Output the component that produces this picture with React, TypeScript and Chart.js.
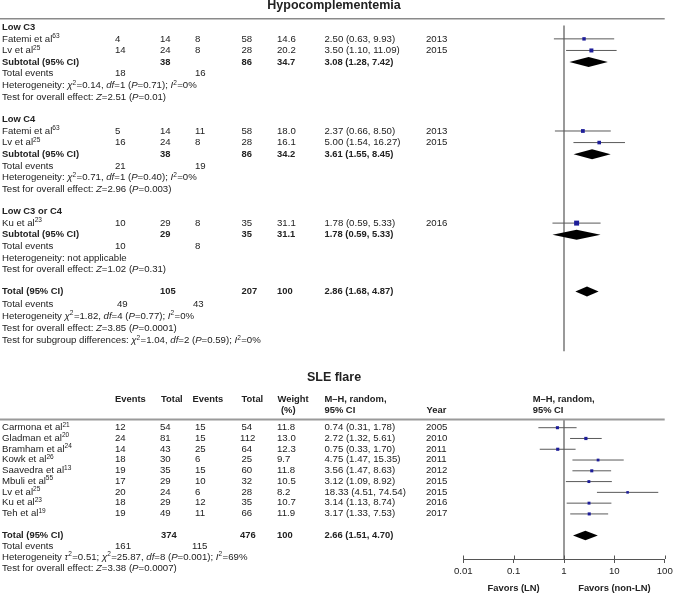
import React, { useEffect, useRef } from "react";
import { Chart, registerables } from "chart.js";

Chart.register(...registerables);

const FONT = '"Liberation Sans", Arial, Helvetica, sans-serif';
const FS = 9.65;
const FS_BOLD = 9.4;
const TEXT = "#222";

// ---------- Hypocomplementemia ----------
const hypoTitle = "Hypocomplementemia";
const hypoGroupNames = ["Low C3", "Low C4", "Low C3 or C4"];
const hypoStudyGroup = [0, 0, 1, 1, 2];
const hypoStudyNames = ["Fatemi et al", "Lv et al", "Fatemi et al", "Lv et al", "Ku et al"];
const hypoStudyRefs = ["63", "25", "63", "25", "23"];
const hypoEventsLN = [4, 14, 5, 16, 10];
const hypoTotalLN = [14, 24, 14, 24, 29];
const hypoEventsNonLN = [8, 8, 11, 8, 8];
const hypoTotalNonLN = [58, 28, 58, 28, 35];
const hypoWeights = [14.6, 20.2, 18.0, 16.1, 31.1];
const hypoOR = [2.5, 3.5, 2.37, 5.0, 1.78];
const hypoLower = [0.63, 1.1, 0.66, 1.54, 0.59];
const hypoUpper = [9.93, 11.09, 8.5, 16.27, 5.33];
const hypoYears = [2013, 2015, 2013, 2015, 2016];

const hypoSubTotalLN = [38, 38, 29];
const hypoSubTotalNonLN = [86, 86, 35];
const hypoSubEventsLN = [18, 21, 10];
const hypoSubEventsNonLN = [16, 19, 8];
const hypoSubWeights = [34.7, 34.2, 31.1];
const hypoSubOR = [3.08, 3.61, 1.78];
const hypoSubLower = [1.28, 1.55, 0.59];
const hypoSubUpper = [7.42, 8.45, 5.33];
const hypoSubHet = [
  "Heterogeneity: _χ_^2^=0.14, _df_=1 (_P_=0.71); _I_^2^=0%",
  "Heterogeneity: _χ_^2^=0.71, _df_=1 (_P_=0.40); _I_^2^=0%",
  "Heterogeneity: not applicable",
];
const hypoSubTest = [
  "Test for overall effect: _Z_=2.51 (_P_=0.01)",
  "Test for overall effect: _Z_=2.96 (_P_=0.003)",
  "Test for overall effect: _Z_=1.02 (_P_=0.31)",
];
const hypoAllTotals = [105, 207];
const hypoAllEvents = [49, 43];
const hypoAllWeight = 100;
const hypoAllEffect = [2.86, 1.68, 4.87];
const hypoAllNotes = [
  "Heterogeneity _χ_^2^=1.82, _df_=4 (_P_=0.77); _I_^2^=0%",
  "Test for overall effect: _Z_=3.85 (_P_=0.0001)",
  "Test for subgroup differences: _χ_^2^=1.04, _df_=2 (_P_=0.59); _I_^2^=0%",
];

// ---------- SLE flare ----------
const sleTitle = "SLE flare";
const sleStudyNames = ["Carmona et al", "Gladman et al", "Bramham et al", "Kowk et al", "Saavedra et al", "Mbuli et al", "Lv et al", "Ku et al", "Teh et al"];
const sleStudyRefs = ["21", "20", "24", "26", "13", "55", "25", "23", "19"];
const sleEventsLN = [12, 24, 14, 18, 19, 17, 20, 18, 19];
const sleTotalLN = [54, 81, 43, 30, 35, 29, 24, 29, 49];
const sleEventsNonLN = [15, 15, 25, 6, 15, 10, 6, 12, 11];
const sleTotalNonLN = [54, 112, 64, 25, 60, 32, 28, 35, 66];
const sleWeights = [11.8, 13.0, 12.3, 9.7, 11.8, 10.5, 8.2, 10.7, 11.9];
const sleOR = [0.74, 2.72, 0.75, 4.75, 3.56, 3.12, 18.33, 3.14, 3.17];
const sleLower = [0.31, 1.32, 0.33, 1.47, 1.47, 1.09, 4.51, 1.13, 1.33];
const sleUpper = [1.78, 5.61, 1.7, 15.35, 8.63, 8.92, 74.54, 8.74, 7.53];
const sleYears = [2005, 2010, 2011, 2011, 2012, 2015, 2015, 2016, 2017];
const sleAllTotals = [374, 476];
const sleAllEvents = [161, 115];
const sleAllWeight = 100;
const sleAllEffect = [2.66, 1.51, 4.7];
const sleAllNotes = [
  "Heterogeneity _τ_^2^=0.51; _χ_^2^=25.87, _df_=8 (_P_=0.001); _I_^2^=69%",
  "Test for overall effect: _Z_=3.38 (_P_=0.0007)",
];
const sleHeaderLine1 = ["Events", "Total", "Events", "Total", "Weight", "M–H, random,", "M–H, random,"];
const sleHeaderLine2 = ["(%)", "95% CI", "Year", "95% CI"];

// ---------- axis ----------
const axisTicks = [0.01, 0.1, 1, 10, 100];
const axisTickLabels = ["0.01", "0.1", "1", "10", "100"];
const favorLabels = ["Favors (LN)", "Favors (non-LN)"];
const favorAt = [0.1, 10];

// ---------- layout (pixels / rows, not data) ----------
const W = 673;
const TOP_H = 360;
const BOT_H = 233;
const PAD_L = 463.3;
const PAD_R = 8.3;
const COL = { label: 2, e1: 115, t1: 160, e2: 195, t2: 241.5, w: 277, ci: 324.5, year: 426 };
const TOP_ROW_PX = 11.85;
const TOP_Y_MIN = -25 / TOP_ROW_PX;
const TOP_GROUP_START = [-0.1, 7.85, 15.8];
const TOP_TOTAL_START = 22.7;
const TOP_TOTAL_STEP = 1.06;
const BOT_ROW_PX = 11;
const BOT_Y_MIN = -65 / BOT_ROW_PX;
const BOT_AREA_H = 199;
const BASE_OFF = 2.8;

const fmt2 = (v: number) => v.toFixed(2);
const fmtCI = (e: number, l: number, u: number) => `${fmt2(e)} (${fmt2(l)}, ${fmt2(u)})`;
const fmtW = (w: number) => (w === 100 ? "100" : w.toFixed(1));

function drawRich(ctx: CanvasRenderingContext2D, text: string, x: number, y: number, bold = false, align = "left", sizeIn?: number) {
  const size = sizeIn ?? (bold ? FS_BOLD : FS);
  const parts: { t: string; k: string }[] = [];
  const re = /(_[^_]+_|\^[^^]+\^)/g;
  let last = 0;
  let m: RegExpExecArray | null;
  while ((m = re.exec(text))) {
    if (m.index > last) parts.push({ t: text.slice(last, m.index), k: "n" });
    const s = m[0];
    parts.push({ t: s.slice(1, -1), k: s[0] === "_" ? "i" : "s" });
    last = m.index + s.length;
  }
  if (last < text.length) parts.push({ t: text.slice(last), k: "n" });
  const b = bold ? "bold " : "";
  const fontFor = (k: string) =>
    k === "i" ? `italic ${b}${size}px ${FONT}` : k === "s" ? `${b}${size * 0.68}px ${FONT}` : `${b}${size}px ${FONT}`;
  let total = 0;
  for (const p of parts) {
    ctx.font = fontFor(p.k);
    total += ctx.measureText(p.t).width + (p.k === "s" ? 0.4 : 0);
  }
  let cx = align === "center" ? x - total / 2 : align === "right" ? x - total : x;
  ctx.textAlign = "left";
  ctx.textBaseline = "alphabetic";
  ctx.fillStyle = TEXT;
  for (const p of parts) {
    ctx.font = fontFor(p.k);
    const dy = p.k === "s" ? -size * 0.36 : 0;
    ctx.fillText(p.t, cx, y + dy);
    cx += ctx.measureText(p.t).width + (p.k === "s" ? 0.4 : 0);
  }
}

function diamond(ctx: CanvasRenderingContext2D, chart: any, e: number, l: number, u: number, row: number, half = 5) {
  const xs = chart.scales.x;
  const ys = chart.scales.y;
  const cx = xs.getPixelForValue(e);
  const lx = xs.getPixelForValue(l);
  const ux = xs.getPixelForValue(u);
  const cy = ys.getPixelForValue(row);
  ctx.save();
  ctx.fillStyle = "#000";
  ctx.beginPath();
  ctx.moveTo(lx, cy);
  ctx.lineTo(cx, cy - half);
  ctx.lineTo(ux, cy);
  ctx.lineTo(cx, cy + half);
  ctx.closePath();
  ctx.fill();
  ctx.restore();
}

function hypoLayout() {
  const studyRow: number[] = [];
  const counters = [0, 0, 0];
  hypoStudyGroup.forEach((g) => {
    counters[g] += 1;
    studyRow.push(TOP_GROUP_START[g] + counters[g]);
  });
  const subRow = TOP_GROUP_START.map((s, g) => s + counters[g] + 1);
  return { studyRow, subRow };
}

function baseOptions(yMin: number, yMax: number, showX: boolean): any {
  const x: any = {
    type: "logarithmic",
    min: 0.01,
    max: 100,
    display: showX,
    position: "bottom",
    afterBuildTicks: (s: any) => {
      s.ticks = axisTicks.map((v) => ({ value: v }));
    },
    ticks: {
      autoSkip: false,
      maxRotation: 0,
      minRotation: 0,
      color: TEXT,
      padding: 3,
      font: { family: FONT, size: FS },
      callback: (_v: any, i: number) => axisTickLabels[i],
    },
    grid: { display: true, drawOnChartArea: false, drawTicks: true, tickLength: 4, color: "#555", lineWidth: 1 },
    border: { display: true, color: "#555", width: 1 },
  };
  if (showX) {
    x.afterFit = (s: any) => {
      s.height = BOT_H - BOT_AREA_H;
      s.paddingLeft = 0;
      s.paddingRight = 0;
    };
  }
  return {
    responsive: false,
    animation: false,
    events: [],
    layout: { padding: { left: PAD_L, right: PAD_R, top: 0, bottom: 0 } },
    plugins: { legend: { display: false }, tooltip: { enabled: false } },
    scales: {
      x,
      y: { type: "linear", min: yMin, max: yMax, reverse: true, display: false },
    },
  };
}

function ciDatasets(eff: number[], lo: number[], hi: number[], rows: number[], w: number[]) {
  const ds: any[] = eff.map((_, i) => ({
    data: [
      { x: lo[i], y: rows[i] },
      { x: hi[i], y: rows[i] },
    ],
    showLine: true,
    borderColor: "#5a5a5a",
    borderWidth: 1,
    pointRadius: 0,
    order: 2,
    clip: false,
  }));
  ds.push({
    data: eff.map((v, i) => ({ x: v, y: rows[i] })),
    pointStyle: "rect",
    pointRadius: w.map((x) => 0.63 * Math.sqrt(x)),
    backgroundColor: "#1d1d99",
    borderWidth: 0,
    order: 0,
    clip: false,
  });
  return ds;
}

function makeTop(canvas: HTMLCanvasElement) {
  const yMax = TOP_Y_MIN + TOP_H / TOP_ROW_PX;
  const { studyRow, subRow } = hypoLayout();
  const datasets = ciDatasets(hypoOR, hypoLower, hypoUpper, studyRow, hypoWeights);
  datasets.push({
    data: [
      { x: 1, y: -0.25 },
      { x: 1, y: 27.85 },
    ],
    showLine: true,
    borderColor: "#555",
    borderWidth: 1.2,
    pointRadius: 0,
    order: 3,
  });
  const textPlugin = {
    id: "hypoText",
    afterDatasetsDraw(chart: any) {
      const ctx = chart.ctx;
      hypoSubOR.forEach((e, g) => diamond(ctx, chart, e, hypoSubLower[g], hypoSubUpper[g], subRow[g]));
      diamond(ctx, chart, hypoAllEffect[0], hypoAllEffect[1], hypoAllEffect[2], TOP_TOTAL_START);
    },
    afterDraw(chart: any) {
      const ctx = chart.ctx;
      const ys = chart.scales.y;
      const xs = chart.scales.x;
      const by = (r: number) => ys.getPixelForValue(r) + BASE_OFF;
      drawRich(ctx, hypoTitle, 334, 9.3, true, "center", 12.5);
      ctx.save();
      ctx.strokeStyle = "#8a8a8a";
      ctx.lineWidth = 1.5;
      ctx.beginPath();
      ctx.moveTo(0, ys.getPixelForValue(-0.84));
      ctx.lineTo(xs.right, ys.getPixelForValue(-0.84));
      ctx.stroke();
      ctx.restore();
      hypoGroupNames.forEach((name, g) => {
        drawRich(ctx, name, COL.label, by(TOP_GROUP_START[g]), true);
        const r = subRow[g];
        drawRich(ctx, "Subtotal (95% CI)", COL.label, by(r), true);
        drawRich(ctx, String(hypoSubTotalLN[g]), COL.t1, by(r), true);
        drawRich(ctx, String(hypoSubTotalNonLN[g]), COL.t2, by(r), true);
        drawRich(ctx, fmtW(hypoSubWeights[g]), COL.w, by(r), true);
        drawRich(ctx, fmtCI(hypoSubOR[g], hypoSubLower[g], hypoSubUpper[g]), COL.ci, by(r), true);
        drawRich(ctx, "Total events", COL.label, by(r + 1));
        drawRich(ctx, String(hypoSubEventsLN[g]), COL.e1, by(r + 1));
        drawRich(ctx, String(hypoSubEventsNonLN[g]), COL.e2, by(r + 1));
        drawRich(ctx, hypoSubHet[g], COL.label, by(r + 2));
        drawRich(ctx, hypoSubTest[g], COL.label, by(r + 3));
      });
      hypoStudyNames.forEach((n, i) => {
        const y = by(studyRow[i]);
        drawRich(ctx, `${n}^${hypoStudyRefs[i]}^`, COL.label, y);
        drawRich(ctx, String(hypoEventsLN[i]), COL.e1, y);
        drawRich(ctx, String(hypoTotalLN[i]), COL.t1, y);
        drawRich(ctx, String(hypoEventsNonLN[i]), COL.e2, y);
        drawRich(ctx, String(hypoTotalNonLN[i]), COL.t2, y);
        drawRich(ctx, fmtW(hypoWeights[i]), COL.w, y);
        drawRich(ctx, fmtCI(hypoOR[i], hypoLower[i], hypoUpper[i]), COL.ci, y);
        drawRich(ctx, String(hypoYears[i]), COL.year, y);
      });
      const t = TOP_TOTAL_START;
      drawRich(ctx, "Total (95% CI)", COL.label, by(t), true);
      drawRich(ctx, String(hypoAllTotals[0]), COL.t1, by(t), true);
      drawRich(ctx, String(hypoAllTotals[1]), COL.t2, by(t), true);
      drawRich(ctx, fmtW(hypoAllWeight), COL.w, by(t), true);
      drawRich(ctx, fmtCI(hypoAllEffect[0], hypoAllEffect[1], hypoAllEffect[2]), COL.ci, by(t), true);
      drawRich(ctx, "Total events", COL.label, by(t + TOP_TOTAL_STEP));
      drawRich(ctx, String(hypoAllEvents[0]), COL.e1 + 2, by(t + TOP_TOTAL_STEP));
      drawRich(ctx, String(hypoAllEvents[1]), COL.e2 - 2, by(t + TOP_TOTAL_STEP));
      hypoAllNotes.forEach((s, k) => drawRich(ctx, s, COL.label, by(t + TOP_TOTAL_STEP * (k + 2))));
    },
  };
  return new Chart(canvas, {
    type: "scatter",
    data: { datasets },
    options: baseOptions(TOP_Y_MIN, yMax, false),
    plugins: [textPlugin],
  } as any);
}

function makeBottom(canvas: HTMLCanvasElement) {
  const yMax = BOT_Y_MIN + BOT_AREA_H / BOT_ROW_PX;
  const rows = sleStudyNames.map((_, i) => i);
  const totalRow = rows.length + 1;
  const ruleRow = -0.77;
  const datasets = ciDatasets(sleOR, sleLower, sleUpper, rows, sleWeights);
  datasets.push({
    data: [
      { x: 1, y: ruleRow },
      { x: 1, y: yMax },
    ],
    showLine: true,
    borderColor: "#555",
    borderWidth: 1.2,
    pointRadius: 0,
    order: 3,
  });
  const textPlugin = {
    id: "sleText",
    afterDatasetsDraw(chart: any) {
      diamond(chart.ctx, chart, sleAllEffect[0], sleAllEffect[1], sleAllEffect[2], totalRow, 4.7);
    },
    afterDraw(chart: any) {
      const ctx = chart.ctx;
      const ys = chart.scales.y;
      const xs = chart.scales.x;
      const by = (r: number) => ys.getPixelForValue(r) + BASE_OFF;
      drawRich(ctx, sleTitle, 334, ys.getPixelForValue(-4.3), true, "center", 12.5);
      const h1x = [COL.e1, 161, 192.5, COL.t2, 277.5, COL.ci, 532.7];
      sleHeaderLine1.forEach((s, k) => drawRich(ctx, s, h1x[k], by(-2.65), true));
      const h2x = [281, COL.ci, 426.5, 532.7];
      sleHeaderLine2.forEach((s, k) => drawRich(ctx, s, h2x[k], by(-1.6), true));
      ctx.save();
      ctx.strokeStyle = "#9a9a9a";
      ctx.lineWidth = 2;
      ctx.beginPath();
      ctx.moveTo(0, ys.getPixelForValue(ruleRow));
      ctx.lineTo(xs.right, ys.getPixelForValue(ruleRow));
      ctx.stroke();
      ctx.strokeStyle = "#555";
      ctx.lineWidth = 1;
      axisTicks.forEach((v) => {
        const px = Math.round(xs.getPixelForValue(v)) + 0.5;
        ctx.beginPath();
        ctx.moveTo(px, xs.top);
        ctx.lineTo(px, xs.top - 3.5);
        ctx.stroke();
      });
      ctx.restore();
      sleStudyNames.forEach((n, i) => {
        const y = by(rows[i]) - 0.5;
        drawRich(ctx, `${n}^${sleStudyRefs[i]}^`, COL.label, y);
        drawRich(ctx, String(sleEventsLN[i]), COL.e1, y);
        drawRich(ctx, String(sleTotalLN[i]), COL.t1, y);
        drawRich(ctx, String(sleEventsNonLN[i]), COL.e2, y);
        drawRich(ctx, String(sleTotalNonLN[i]), sleTotalNonLN[i] >= 100 ? COL.t2 - 1.5 : COL.t2, y);
        drawRich(ctx, fmtW(sleWeights[i]), COL.w, y);
        drawRich(ctx, fmtCI(sleOR[i], sleLower[i], sleUpper[i]), COL.ci, y);
        drawRich(ctx, String(sleYears[i]), COL.year, y);
      });
      const t = totalRow;
      drawRich(ctx, "Total (95% CI)", COL.label, by(t), true);
      drawRich(ctx, String(sleAllTotals[0]), COL.t1 + 1, by(t), true);
      drawRich(ctx, String(sleAllTotals[1]), COL.t2 - 1.5, by(t), true);
      drawRich(ctx, fmtW(sleAllWeight), COL.w, by(t), true);
      drawRich(ctx, fmtCI(sleAllEffect[0], sleAllEffect[1], sleAllEffect[2]), COL.ci, by(t), true);
      drawRich(ctx, "Total events", COL.label, by(t + 1));
      drawRich(ctx, String(sleAllEvents[0]), COL.e1, by(t + 1));
      drawRich(ctx, String(sleAllEvents[1]), COL.e2 - 3, by(t + 1));
      sleAllNotes.forEach((s, k) => drawRich(ctx, s, COL.label, by(t + 2 + k)));
      favorLabels.forEach((s, k) => drawRich(ctx, s, xs.getPixelForValue(favorAt[k]), 231, true, "center"));
    },
  };
  return new Chart(canvas, {
    type: "scatter",
    data: { datasets },
    options: baseOptions(BOT_Y_MIN, yMax, true),
    plugins: [textPlugin],
  } as any);
}

export default function App() {
  const topRef = useRef<HTMLCanvasElement | null>(null);
  const botRef = useRef<HTMLCanvasElement | null>(null);
  useEffect(() => {
    const a = makeTop(topRef.current!);
    const b = makeBottom(botRef.current!);
    return () => {
      a.destroy();
      b.destroy();
    };
  }, []);
  return (
    <div style={{ position: "absolute", left: 0, top: 0, width: W, height: TOP_H + BOT_H, background: "#fff" }}>
      <canvas ref={topRef} width={W} height={TOP_H} style={{ display: "block" }} />
      <canvas ref={botRef} width={W} height={BOT_H} style={{ display: "block" }} />
    </div>
  );
}
